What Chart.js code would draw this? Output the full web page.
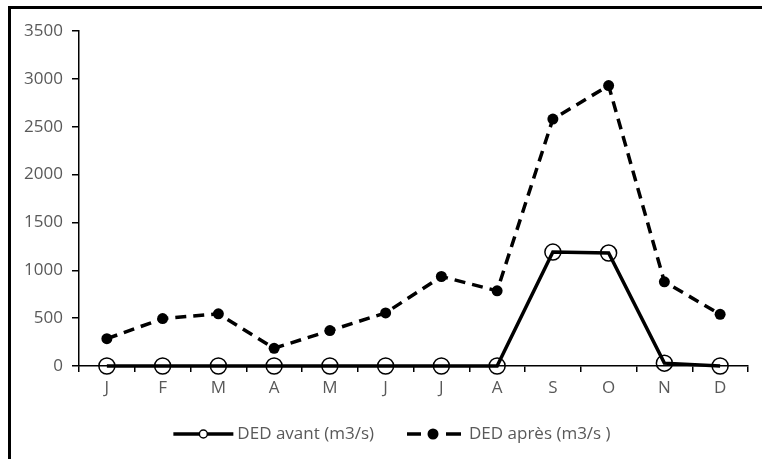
<!DOCTYPE html>
<html>
<head>
<meta charset="utf-8">
<script src="https://cdn.jsdelivr.net/npm/chart.js@4/dist/chart.umd.min.js"></script>
<style>
  html, body { margin: 0; padding: 0; background: #fff; }
  #wrap { position: relative; width: 762px; height: 459px; overflow: hidden; }
  #frame { position: absolute; left: 8px; top: 6px; width: 800px; height: 500px;
           border-top: 3px solid #000; border-left: 3px solid #000; }
  canvas { position: absolute; left: 0; top: 0; }
</style>
</head>
<body>
<div id="wrap">
  <div id="frame"></div>
  <canvas id="chart" width="762" height="459"></canvas>
</div>
<script>
const months = ['J', 'F', 'M', 'A', 'M', 'J', 'J', 'A', 'S', 'O', 'N', 'D'];
const dedAvant = [0, 0, 0, 0, 0, 0, 0, 0, 1190, 1180, 30, 0];
const dedApres = [285, 495, 545, 185, 370, 555, 935, 785, 2580, 2930, 880, 540];
const seriesNames = ['DED avant (m3/s)', 'DED après (m3/s )'];

const FONT = '"Open Sans"';
const GREY = '#595959';

// legend drawn by hand: line sample with marker, like the original
const bottomLegend = {
  id: 'bottomLegend',
  afterDraw(chart) {
    const ctx = chart.ctx;
    const y = 434;
    ctx.save();
    ctx.font = '17px ' + FONT;
    const w0 = ctx.measureText(seriesNames[0]).width;
    const w1 = ctx.measureText(seriesNames[1]).width;
    const total = 60 + 4 + w0 + 33 + 54 + 8 + w1;
    let x = 392 - total / 2;

    // solid + open circle
    ctx.strokeStyle = '#000';
    ctx.lineWidth = 3.5;
    ctx.beginPath(); ctx.moveTo(x, y); ctx.lineTo(x + 60, y); ctx.stroke();
    ctx.fillStyle = '#fff';
    ctx.lineWidth = 1.5;
    ctx.beginPath(); ctx.arc(x + 30, y, 4, 0, Math.PI * 2); ctx.fill(); ctx.stroke();
    x += 64;
    ctx.fillStyle = GREY;
    ctx.textBaseline = 'middle';
    ctx.fillText(seriesNames[0], x, y);
    x += w0 + 33;

    // dash, dot, dash
    ctx.strokeStyle = '#000';
    ctx.lineWidth = 3.5;
    ctx.beginPath();
    ctx.moveTo(x, y); ctx.lineTo(x + 14, y);
    ctx.moveTo(x + 39, y); ctx.lineTo(x + 54, y);
    ctx.stroke();
    ctx.fillStyle = '#000';
    ctx.beginPath(); ctx.arc(x + 26, y, 5.5, 0, Math.PI * 2); ctx.fill();
    x += 62;
    ctx.fillStyle = GREY;
    ctx.fillText(seriesNames[1], x, y);
    ctx.restore();
  }
};

new Chart(document.getElementById('chart'), {
  type: 'line',
  plugins: [bottomLegend],
  data: {
    labels: months,
    datasets: [
      {
        label: seriesNames[0],
        data: dedAvant,
        borderColor: '#000',
        borderWidth: 3.5,
        pointStyle: 'circle',
        pointRadius: 8,
        pointBorderWidth: 1.5,
        pointBorderColor: '#000',
        pointBackgroundColor: 'rgba(0,0,0,0)',
        tension: 0,
        fill: false,
        clip: false,
      },
      {
        label: seriesNames[1],
        data: dedApres,
        borderColor: '#000',
        borderWidth: 3.5,
        borderDash: [11, 7],
        pointStyle: 'circle',
        pointRadius: 5.5,
        pointBorderWidth: 0,
        pointBackgroundColor: '#000',
        tension: 0,
        fill: false,
      },
    ],
  },
  options: {
    responsive: false,
    animation: false,
    layout: { padding: { left: 0, right: 14, top: 31, bottom: 0 } },
    plugins: {
      legend: { display: false },
      tooltip: { enabled: false },
    },
    scales: {
      x: {
        offset: true,
        grid: { offset: true, drawOnChartArea: false, drawTicks: true, tickLength: 6, color: '#000', lineWidth: 1.5 },
        border: { display: true, color: '#000', width: 1.5 },
        ticks: { color: GREY, font: { family: FONT, size: 17 }, padding: 6, maxRotation: 0 },
        afterFit(scale) { scale.height = 459 - 366; },
      },
      y: {
        min: 0,
        max: 3500,
        ticks: {
          stepSize: 500, color: GREY, font: { family: FONT, size: 17 }, padding: 9,
          callback: (v) => String(v),
        },
        grid: { drawOnChartArea: false, drawTicks: true, tickLength: 7, color: '#000', lineWidth: 1.5 },
        border: { display: true, color: '#000', width: 1.5 },
        afterFit(scale) { scale.width = 79; },
      },
    },
  },
});
</script>
</body>
</html>
